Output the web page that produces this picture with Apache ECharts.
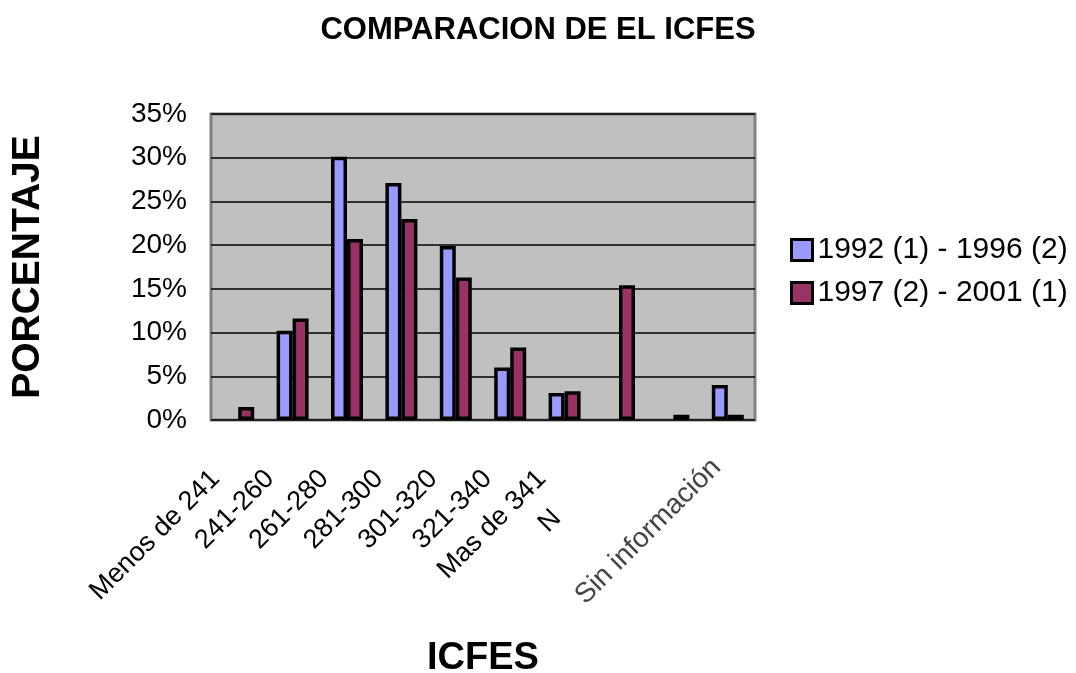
<!DOCTYPE html>
<html>
<head>
<meta charset="utf-8">
<script src="https://cdn.jsdelivr.net/npm/echarts@6/dist/echarts.min.js"></script>
<style>
  html, body { margin: 0; padding: 0; background: #fff; }
  #chart { width: 1076px; height: 673px; }
</style>
</head>
<body>
<div id="chart"></div>
<script>
var categories = ['Menos de 241', '241-260', '261-280', '281-300', '301-320', '321-340', 'Mas de 341', 'N', '', 'Sin información'];
var seriesNames = ['1992 (1) - 1996 (2)', '1997 (2) - 2001 (1)'];
var values1992 = [null, 10.2, 30.1, 27.1, 19.9, 6.0, 3.1, null, null, 4.0];
var values1997 = [1.5, 11.6, 20.7, 23.0, 16.3, 8.3, 3.3, 15.4, 0.6, 0.6];
var yTicks = [0, 5, 10, 15, 20, 25, 30, 35];

var font = "'Liberation Sans', Arial, sans-serif";

// etiquetas del eje x, algunas con un desplazamiento propio
var catData = categories.map(function(c) {
	if (c === 'N') {
		return { value: c, textStyle: { padding: [0, 88, 17, 0] } };
	}
	if (c === 'Sin información') {
		return { value: c, textStyle: { padding: [11, 16, 0, 0], fontSize: 28, color: '#444' } };
	}
	return c;
});

var myChart = echarts.init(document.getElementById('chart'));
var option = {
	animation: false,
	title: {
		text: 'COMPARACION DE EL ICFES',
		left: 'center',
		top: 10,
		textStyle: {
			fontFamily: font,
			fontWeight: 'bold',
			fontSize: 31,
			color: '#000'
		}
	},
	legend: {
		orient: 'vertical',
		left: 785,
		top: 230,
		itemWidth: 21,
		itemHeight: 21,
		itemGap: 13,
		icon: 'rect',
		itemStyle: {
			borderColor: '#000',
			borderWidth: 3
		},
		textStyle: {
			fontFamily: font,
			fontSize: 30,
			color: '#000'
		},
		data: seriesNames
	},
	grid: {
		left: 211,
		top: 114,
		right: 321,
		bottom: 253,
		outerBoundsMode: 'none',
		containLabel: false,
		show: true,
		backgroundColor: '#C0C0C0',
		borderColor: '#808080',
		borderWidth: 3
	},
	xAxis: {
		type: 'category',
		data: catData,
		name: 'ICFES',
		nameLocation: 'middle',
		nameGap: 220,
		nameTextStyle: {
			fontFamily: font,
			fontWeight: 'bold',
			fontSize: 38,
			color: '#000'
		},
		axisLine: { show: false },
		axisTick: { show: false },
		axisLabel: {
			interval: 0,
			rotate: 45,
			margin: 32,
			padding: [0, 32, 0, 0],
			fontFamily: font,
			fontSize: 27,
			color: '#000'
		}
	},
	yAxis: {
		type: 'value',
		min: yTicks[0],
		max: yTicks[yTicks.length - 1],
		interval: 5,
		name: 'PORCENTAJE',
		nameLocation: 'middle',
		nameRotate: 90,
		nameGap: 163,
		nameTextStyle: {
			fontFamily: font,
			fontWeight: 'bold',
			fontSize: 39,
			color: '#000'
		},
		axisLine: { show: false },
		axisTick: { show: false },
		axisLabel: {
			margin: 24,
			formatter: '{value}%',
			fontFamily: font,
			fontSize: 28,
			color: '#000'
		},
		splitLine: {
			lineStyle: {
				color: '#000',
				width: 1.5
			}
		}
	},
	series: [{
		name: seriesNames[0],
		type: 'bar',
		data: values1992,
		barWidth: 16,
		barGap: '0%',
		itemStyle: {
			color: '#9999FF',
			borderColor: '#000',
			borderWidth: 3.5
		}
	}, {
		name: seriesNames[1],
		type: 'bar',
		data: values1997,
		barWidth: 16,
		barGap: '0%',
		itemStyle: {
			color: '#993366',
			borderColor: '#000',
			borderWidth: 3.5
		}
	}]
};
myChart.setOption(option);
</script>
</body>
</html>
